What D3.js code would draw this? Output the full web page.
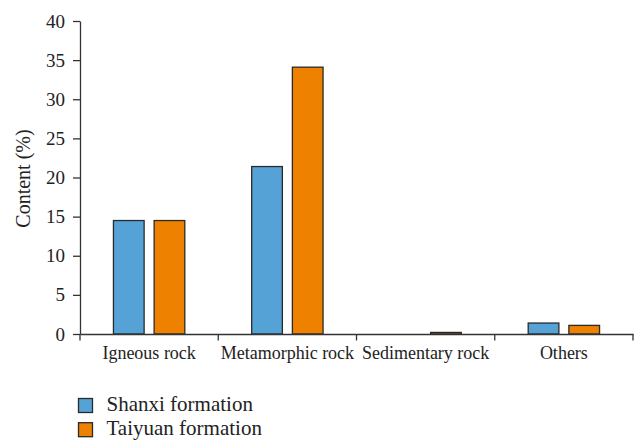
<!DOCTYPE html>
<html>
<head>
<meta charset="utf-8">
<script src="https://cdn.jsdelivr.net/npm/d3@7"></script>
<style>
  html, body { margin: 0; padding: 0; background: #fff; }
  svg { display: block; }
  text { font-family: "Liberation Serif", "DejaVu Serif", serif; fill: #222; }
</style>
</head>
<body>
<svg id="chart" width="638" height="442"></svg>
<script>
const categories = ["Igneous rock", "Metamorphic rock", "Sedimentary rock", "Others"];
const seriesNames = ["Shanxi formation", "Taiyuan formation"];
const shanxiValues = [14.5, 21.4, 0, 1.4];
const taiyuanValues = [14.5, 34.1, 0.2, 1.1];
const yTicks = [0, 5, 10, 15, 20, 25, 30, 35, 40];
const colors = ["#55A3D6", "#EE8100"];

const seriesValues = [shanxiValues, taiyuanValues];
const rows = categories.map((c, i) => ({
  cat: c,
  vals: seriesNames.map((s, j) => ({ series: s, idx: j, value: seriesValues[j][i] }))
}));

const svg = d3.select("#chart");
const mLeft = 80, mRight = 633, mTop = 21, mBottom = 334;

const x0 = d3.scaleBand().domain(categories).range([mLeft, mRight]).padding(0);
const x1 = d3.scaleBand().domain(seriesNames).range([0, x0.bandwidth()])
  .paddingInner(0.246).paddingOuter(0.822);
const y = d3.scaleLinear().domain([0, 40]).range([mBottom, mTop]);

// Bars
const groups = svg.append("g").selectAll("g").data(rows).join("g")
  .attr("transform", d => `translate(${x0(d.cat)},0)`);
groups.selectAll("rect").data(d => d.vals.filter(v => v.value > 0)).join("rect")
  .attr("x", d => x1(d.series))
  .attr("y", d => y(d.value))
  .attr("width", x1.bandwidth())
  .attr("height", d => y(0) - y(d.value))
  .attr("fill", d => colors[d.idx])
  .attr("stroke", "#2a2a2a")
  .attr("stroke-width", 1.3);

// Y axis
const yAxis = d3.axisLeft(y).tickValues(yTicks).tickSize(7).tickSizeOuter(0).tickPadding(8);
const gy = svg.append("g").attr("transform", `translate(${mLeft},0)`).call(yAxis);
gy.select(".domain").attr("stroke", "#333").attr("stroke-width", 1.3);
gy.selectAll(".tick line").attr("stroke", "#333").attr("stroke-width", 1.3);
gy.selectAll(".tick text").style("font-family", "Liberation Serif, serif")
  .style("font-size", "19px").attr("fill", "#222");

// X axis (labels)
const xAxis = d3.axisBottom(x0).tickSize(0).tickSizeOuter(0).tickPadding(12);
const gx = svg.append("g").attr("transform", `translate(0,${mBottom})`).call(xAxis);
gx.select(".domain").attr("stroke", "#333").attr("stroke-width", 1.3);
gx.selectAll(".tick text").style("font-family", "Liberation Serif, serif")
  .style("font-size", "18px").attr("fill", "#222");

// X boundary ticks
const boundaries = categories.map(c => x0(c)).concat([x0.range()[1]]);
gx.selectAll("line.bound").data(boundaries).join("line")
  .attr("class", "bound")
  .attr("x1", d => d).attr("x2", d => d)
  .attr("y1", 0).attr("y2", 6.5)
  .attr("stroke", "#333").attr("stroke-width", 1.3);

// Y label
svg.append("text")
  .attr("transform", `translate(30,${(mTop + mBottom) / 2 + 1}) rotate(-90)`)
  .attr("text-anchor", "middle")
  .style("font-size", "20px")
  .text("Content (%)");

// Legend
const legend = svg.append("g").selectAll("g").data(seriesNames).join("g")
  .attr("transform", (d, i) => `translate(78.5,${398.5 + i * 24.2})`);
legend.append("rect")
  .attr("width", 14).attr("height", 14)
  .attr("fill", (d, i) => colors[i])
  .attr("stroke", "#2a2a2a").attr("stroke-width", 1.3);
legend.append("text")
  .attr("x", 28).attr("y", 12.5)
  .style("font-size", "21px")
  .text(d => d);
</script>
</body>
</html>
